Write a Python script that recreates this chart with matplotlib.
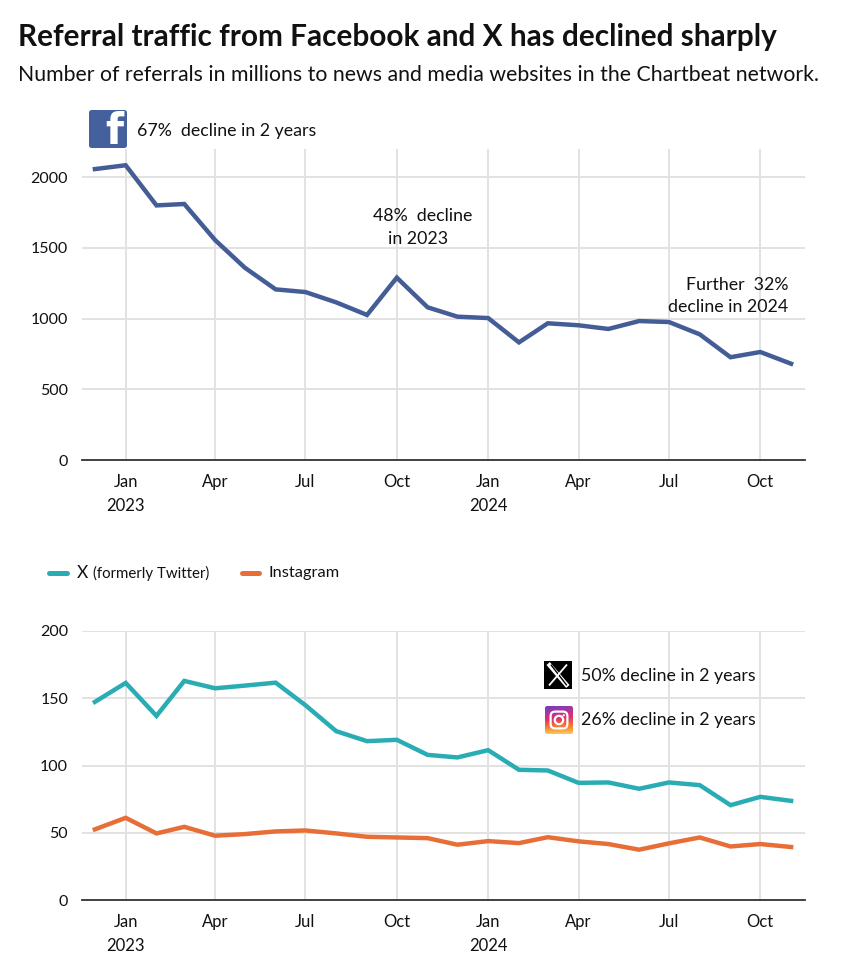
import matplotlib
matplotlib.use("Agg")
import matplotlib.pyplot as plt
from matplotlib.patches import FancyBboxPatch, Circle
from matplotlib.colors import LinearSegmentedColormap
import numpy as np
import pandas as pd

plt.rcParams['font.family'] = ['Lato', 'DejaVu Sans']

# monthly data, Dec 2022 .. Nov 2024 (millions of referrals)
months = pd.date_range('2022-12-01', periods=24, freq='MS')
facebook = [2058, 2085, 1801, 1811, 1556, 1360, 1207, 1188, 1115, 1026, 1290, 1080,
            1014, 1004, 832, 967, 953, 927, 983, 976, 889, 727, 764, 681]
twitter = [147.3, 161.4, 136.9, 162.9, 157.4, 159.4, 161.6, 144.8, 125.5, 118.1, 119.1, 107.9,
           106.0, 111.4, 96.8, 96.3, 87.1, 87.4, 82.7, 87.4, 85.4, 70.5, 76.7, 73.7]
instagram = [52.5, 61.1, 49.5, 54.4, 47.8, 49.0, 51.0, 51.7, 49.5, 47.0, 46.5, 46.0,
             41.1, 43.8, 42.3, 46.7, 43.6, 41.6, 37.4, 42.1, 46.5, 39.8, 41.6, 39.4]

tick_dates = pd.to_datetime(['2023-01-01', '2023-04-01', '2023-07-01', '2023-10-01',
                             '2024-01-01', '2024-04-01', '2024-07-01', '2024-10-01'])
tick_labels = ['Jan\n2023', 'Apr', 'Jul', 'Oct', 'Jan\n2024', 'Apr', 'Jul', 'Oct']

FB_BLUE = '#455d96'
X_TEAL = '#2aacb4'
IG_ORANGE = '#e76f37'
INK = '#111111'
W, H = 842, 969


def px(x, y, w=0, h=0):
    # pixel box (top-left origin) -> figure fraction rect
    return [x / W, 1 - (y + h) / H, w / W, h / H]


def style_axis(ax, ymax, yticks):
    ax.set_xlim(pd.Timestamp('2022-11-18'), pd.Timestamp('2024-11-15'))
    ax.set_ylim(0, ymax)
    ax.set_yticks(yticks)
    ax.set_xticks(tick_dates)
    ax.set_xticklabels(tick_labels, linespacing=1.6)
    ax.grid(True, color='#e2e2e2', linewidth=1.4)
    ax.set_axisbelow(True)
    for s in ['top', 'right', 'left']:
        ax.spines[s].set_visible(False)
    ax.spines['bottom'].set_color('#333333')
    ax.spines['bottom'].set_linewidth(1.3)
    ax.tick_params(axis='x', length=0, labelsize=12, colors=INK, pad=10)
    ax.tick_params(axis='y', length=0, labelsize=11.5, colors=INK, pad=10)


fig = plt.figure(figsize=(W / 100, H / 100), dpi=100)

fig.text(18 / W, 1 - 37 / H, 'Referral traffic from Facebook and X has declined sharply',
         fontsize=21.4, fontweight='bold', va='center', ha='left', color=INK)
fig.text(18 / W, 1 - 75 / H,
         'Number of referrals in millions to news and media websites in the Chartbeat network.',
         fontsize=15.3, va='center', ha='left', color=INK)

# Facebook panel
ax1 = fig.add_axes(px(82, 149, 723, 311))
ax1.plot(months, facebook, color=FB_BLUE, linewidth=3.2, solid_joinstyle='miter')
style_axis(ax1, 2200, [0, 500, 1000, 1500, 2000])

fs_note = 12.8
fig.text(137 / W, 1 - 131 / H, '67%  decline in 2 years', fontsize=fs_note, va='center', color=INK)
fig.text(423 / W, 1 - 216 / H, '48%  decline', fontsize=fs_note, va='center', ha='center', color=INK)
fig.text(418 / W, 1 - 239 / H, 'in 2023', fontsize=fs_note, va='center', ha='center', color=INK)
fig.text(788 / W, 1 - 285 / H, 'Further  32%', fontsize=fs_note, va='center', ha='right', color=INK)
fig.text(788 / W, 1 - 307 / H, 'decline in 2024', fontsize=fs_note, va='center', ha='right', color=INK)

# facebook icon
axf = fig.add_axes(px(89, 110, 38, 38))
axf.set_xlim(0, 1)
axf.set_ylim(0, 1)
axf.axis('off')
box = FancyBboxPatch((0, 0), 1, 1, boxstyle='round,pad=0,rounding_size=0.07',
                     facecolor='#44609d', edgecolor='none')
axf.add_patch(box)
t = axf.text(0.66, -0.12, 'f', color='white', fontsize=30, fontweight='bold',
             ha='center', va='bottom', family=['DejaVu Sans'])
t.set_clip_path(box)

# X / Instagram panel
ax2 = fig.add_axes(px(82, 631, 723, 269))
ax2.plot(months, twitter, color=X_TEAL, linewidth=3.2, label='X', solid_joinstyle='miter')
ax2.plot(months, instagram, color=IG_ORANGE, linewidth=3.2, label='Instagram', solid_joinstyle='miter')
style_axis(ax2, 200, [0, 50, 100, 150, 200])

# legend drawn by hand
leg = fig.add_axes(px(40, 560, 320, 26))
leg.set_xlim(40, 360)
leg.set_ylim(586, 560)
leg.axis('off')
leg.plot([49, 67], [573, 573], color=X_TEAL, linewidth=3.6, solid_capstyle='round')
leg.text(77, 573, 'X', fontsize=12.5, va='center', color=INK)
leg.text(93, 573, '(formerly Twitter)', fontsize=10.8, va='center', color=INK)
leg.plot([242, 259], [573, 573], color=IG_ORANGE, linewidth=3.6, solid_capstyle='round')
leg.text(268, 573, 'Instagram', fontsize=11.8, va='center', color=INK)

fig.text(581 / W, 1 - 676 / H, '50% decline in 2 years', fontsize=fs_note, va='center', color=INK)
fig.text(581 / W, 1 - 720 / H, '26% decline in 2 years', fontsize=fs_note, va='center', color=INK)

# X icon
axx = fig.add_axes(px(544, 661, 28, 28))
axx.set_xlim(0, 1)
axx.set_ylim(0, 1)
axx.axis('off')
axx.add_patch(plt.Rectangle((0, 0), 1, 1, facecolor='black'))
axx.plot([0.2, 0.8], [0.85, 0.15], color='white', linewidth=3.2)
axx.plot([0.26, 0.8], [0.85, 0.15], color='black', linewidth=1.0)
axx.plot([0.2, 0.8], [0.15, 0.85], color='white', linewidth=1.3)

# Instagram icon
axi = fig.add_axes(px(545, 706, 28, 28))
axi.set_xlim(0, 1)
axi.set_ylim(0, 1)
axi.axis('off')
gx, gy = np.meshgrid(np.linspace(0, 1, 60), np.linspace(0, 1, 60))
ig_cmap = LinearSegmentedColormap.from_list('ig', ['#fdc75a', '#f7782f', '#e1306c', '#a734a3', '#6c3fc2'])
shade = gy[::-1] * 0.8 + (1 - gx) * 0.2 * gy[::-1]
img = axi.imshow(shade, cmap=ig_cmap, extent=[0, 1, 0, 1], origin='upper', vmin=0, vmax=1)
clipbox = FancyBboxPatch((0, 0), 1, 1, boxstyle='round,pad=0,rounding_size=0.08',
                         facecolor='none', edgecolor='none', transform=axi.transData)
axi.add_patch(clipbox)
img.set_clip_path(clipbox)
axi.add_patch(FancyBboxPatch((0.2, 0.2), 0.6, 0.6, boxstyle='round,pad=0,rounding_size=0.16',
                             facecolor='none', edgecolor='white', linewidth=1.6))
axi.add_patch(Circle((0.5, 0.5), 0.15, facecolor='none', edgecolor='white', linewidth=1.6))
axi.add_patch(Circle((0.67, 0.67), 0.04, facecolor='white', edgecolor='none'))

fig.savefig('out.png', dpi=100)
